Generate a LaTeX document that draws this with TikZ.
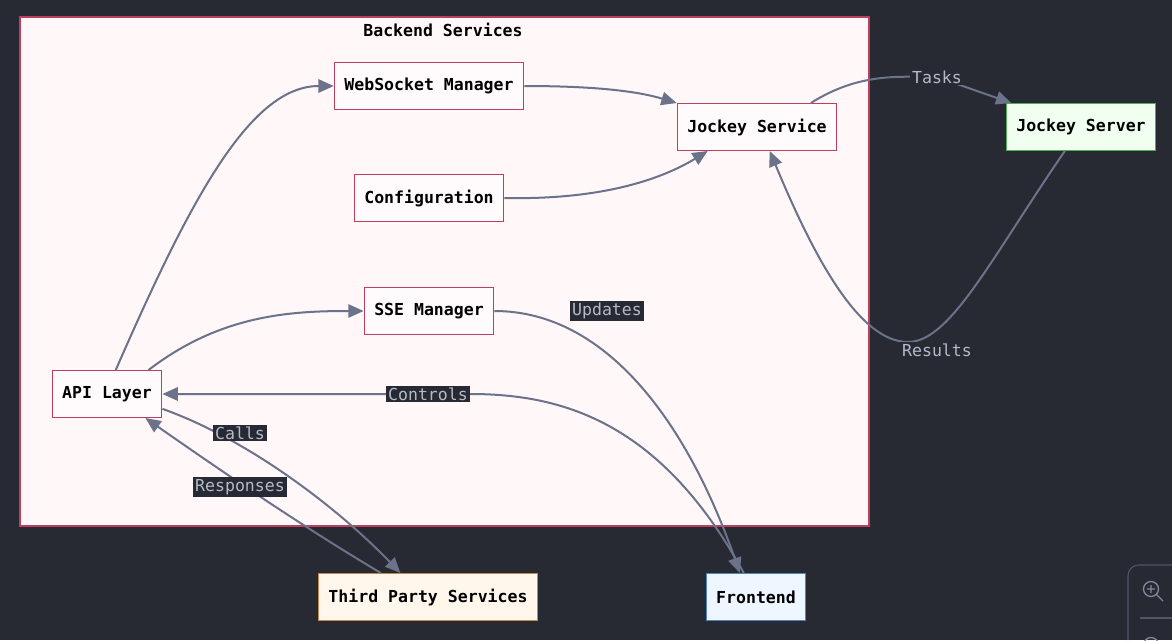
\documentclass[tikz,border=0pt]{standalone}
\usepackage{fontspec}
\setmonofont{DejaVu Sans Mono}
\usetikzlibrary{positioning,arrows.meta,backgrounds,calc}
\definecolor{bgdark}{RGB}{39,42,51}
\definecolor{grpfill}{RGB}{255,247,248}
\definecolor{grpline}{RGB}{190,62,95}
\definecolor{edgecol}{RGB}{107,114,137}
\definecolor{lbltext}{RGB}{180,186,200}
\definecolor{srvfill}{RGB}{240,255,240}
\definecolor{srvline}{RGB}{76,175,80}
\definecolor{tpsfill}{RGB}{255,247,236}
\definecolor{tpsline}{RGB}{200,136,74}
\definecolor{fefill}{RGB}{238,246,255}
\definecolor{feline}{RGB}{74,134,200}
\tikzset{
  svc/.style  ={rectangle, draw=grpline, fill=white!40!grpfill, line width=1pt,
                minimum height=35pt, inner xsep=7.5pt, text=black,
                font=\ttfamily\bfseries\fontsize{12.4}{14}\selectfont},
  srv/.style  ={svc, draw=srvline, fill=srvfill},
  tps/.style  ={svc, draw=tpsline, fill=tpsfill},
  fe/.style   ={svc, draw=feline, fill=fefill},
  lbl/.style  ={fill=bgdark, text=lbltext, inner sep=1.5pt,
                font=\ttfamily\fontsize{12.4}{14}\selectfont},
  arr/.style  ={-{Triangle[length=11.5pt,width=10pt]}, line width=1.5pt, draw=edgecol},
}
\begin{document}
\begin{tikzpicture}[x=0.75pt,y=-0.75pt]
  % canvas
  \fill[bgdark] (0,0) rectangle (1172,640);
  \useasboundingbox (0,0) rectangle (1172,640);

  % backend group
  \draw[grpline, fill=grpfill, line width=1pt] (20,17) rectangle (869,526);
  \node[font=\ttfamily\bfseries\fontsize{12.4}{14}\selectfont] (title) at (443,30) {Backend Services};

  % services
  \node[svc] (ws)  at (429,86)  {WebSocket Manager};
  \node[svc] (js)  at (757,127) {Jockey Service};
  \node[svc] (cfg) at (429,198) {Configuration};
  \node[svc] (sse) at (429,311) {SSE Manager};
  \node[svc] (api) at (107,394) {API Layer};

  % outside
  \node[srv] (jsv) at (1081,127) {Jockey Server};
  \node[tps] (tps) at (428,597)  {Third Party Services};
  \node[fe]  (fe)  at (756,597)  {Frontend};

  % arrows
  \draw[arr] (api.70) .. controls (190,200) and (250,86) .. (ws.west);
  \draw[arr] (api.30) .. controls (220,315) and (290,311) .. (sse.west);
  \draw[arr] (ws.east) .. controls (600,86) and (640,92) .. (js.north west);
  \draw[arr] (cfg.east) .. controls (600,200) and (660,180) .. (js.206);
  \draw[arr] (sse.east) .. controls (610,311) and (690,430) .. (fe.124);
  \draw[arr] (fe.117) .. controls (660,420) and (560,394) .. (470,394) -- (api.east);
  \draw[arr] (api.-15) .. controls (250,440) and (340,510) .. (tps.139);
  \draw[arr] (tps.153) .. controls (300,525) and (220,470) .. (api.-32);
  \draw[arr] (js.24) .. controls (860,72) and (900,77) .. (937,77) -- (jsv.161);
  \draw[arr] (jsv.236) .. controls (990,260) and (950,342) .. (908,342)
             .. controls (860,342) and (815,260) .. (js.298);

  % edge labels
  \node[lbl] (updl) at (607,311) {Updates};
  \node[lbl] (ctll) at (428,394) {Controls};
  \node[lbl] (call) at (240,433) {Calls};
  \node[lbl] (resl) at (240,487) {Responses};
  \node[lbl] (tskl) at (937,77)  {Tasks};
  \node[lbl] (rsll) at (937,350) {Results};

  % zoom control
  \draw[edgecol!60!bgdark, line width=0.8pt, rounded corners=8pt]
       (1128,640) -- (1128,565) -- (1180,565);
  \draw[edgecol!70!lbltext, line width=1pt] (1151,589) circle (7.5)
       (1156.5,594.5) -- (1163,601) (1147,589) -- (1155,589) (1151,585) -- (1151,593);
  \draw[edgecol!60!bgdark, line width=0.8pt] (1140,618) -- (1172,618);
  \draw[edgecol!70!lbltext, line width=1pt] (1151,645) circle (7.5);
\end{tikzpicture}
\end{document}
